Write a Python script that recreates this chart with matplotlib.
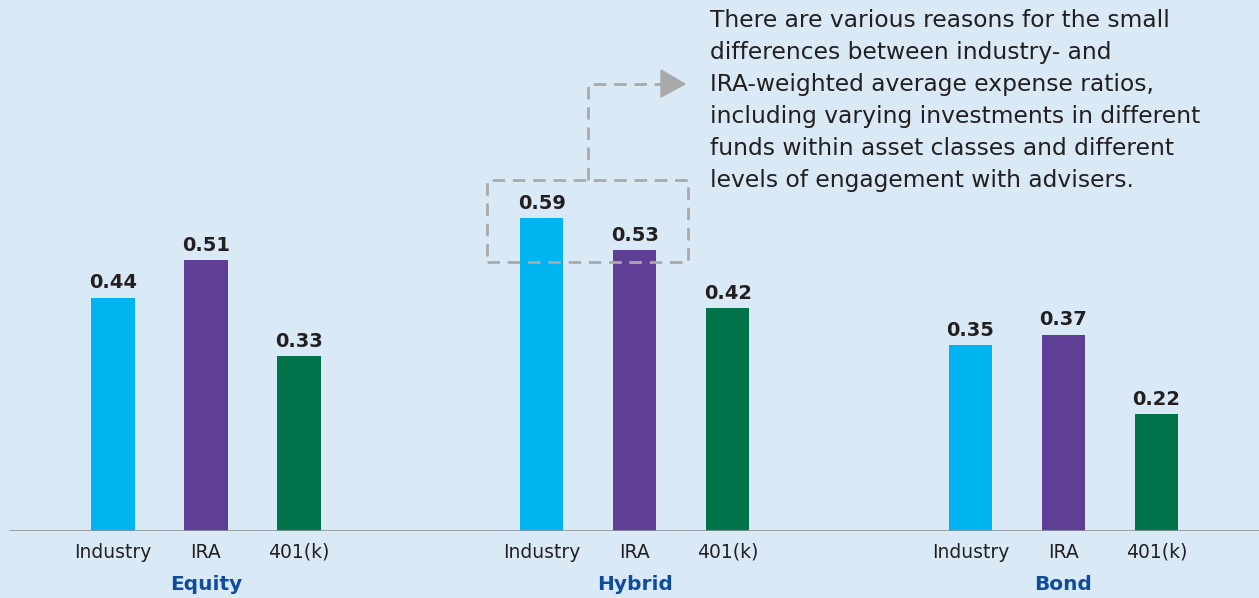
import matplotlib
matplotlib.use("Agg")
import matplotlib.pyplot as plt
from matplotlib.patches import Rectangle, Polygon

groups = ["Equity", "Hybrid", "Bond"]
series = ["Industry", "IRA", "401(k)"]
industry = [0.44, 0.59, 0.35]
ira = [0.51, 0.53, 0.37]
k401 = [0.33, 0.42, 0.22]
values = [industry, ira, k401]
colors = ["#00b5ef", "#5f3f96", "#00734a"]
note = ("There are various reasons for the small\n"
        "differences between industry- and\n"
        "IRA-weighted average expense ratios,\n"
        "including varying investments in different\n"
        "funds within asset classes and different\n"
        "levels of engagement with advisers.")

bg = "#d9eaf6"
W, H = 1259, 598
fig = plt.figure(figsize=(W/100, H/100), dpi=100, facecolor=bg)
base_px = 531
ax = fig.add_axes([0, (H-base_px)/H, 1, base_px/H])
ax.set_facecolor(bg)
k = 530.5
ax.set_ylim(0, base_px/k)
gsp = 4.61
unit = 93.0
ax.set_xlim(-206/unit, (W-206)/unit)
for s in ax.spines.values():
    s.set_visible(False)
ax.set_xticks([]); ax.set_yticks([])

font = "DejaVu Sans"
for si, (name, vals, c) in enumerate(zip(series, values, colors)):
    xs = [g*gsp + (si-1) for g in range(len(groups))]
    ax.bar(xs, vals, width=0.465, color=c, zorder=2)
    for x, v in zip(xs, vals):
        ax.text(x, v + 0.010, f"{v:.2f}", ha="center", va="bottom", fontsize=14,
                fontweight="bold", color="#231f20", family=font)
        ax.text(x, -0.022, name, ha="center", va="top", fontsize=13.5,
                color="#231f20", family=font, clip_on=False)
for g, gname in enumerate(groups):
    ax.text(g*gsp, -0.082, gname, ha="center", va="top", fontsize=14.5,
            fontweight="bold", color="#0f4c9c", family=font, clip_on=False)

ax.axhline(0, xmin=10/W, xmax=1, color="#8c9399", lw=1.2, zorder=3)

# dashed callout
def px2d(xp, yp):
    return ((xp-206)/unit, (base_px-yp)/k)
dash = (0, (4.5, 2.8))
gray = "#a9a9a9"
x0, y0 = px2d(487, 262)
x1, y1 = px2d(688, 180)
ax.add_patch(Rectangle((x0, y0), x1-x0, y1-y0, fill=False, ls=dash,
                       ec=gray, lw=2, zorder=4, clip_on=False))
cx, cy0 = px2d(588, 180)
_, cy1 = px2d(588, 84)
ax_, _ = px2d(663, 84)
ax.plot([cx, cx, ax_], [cy0, cy1, cy1], ls=dash, color=gray, lw=2,
        zorder=4, clip_on=False)
ta = px2d(661, 70); tb = px2d(661, 97); tc = px2d(685, 84)
ax.add_patch(Polygon([ta, tb, tc], closed=True, color=gray, zorder=4, clip_on=False))

fig.text(710/W, 1 - 9/H, note, ha="left", va="top", fontsize=16.8, color="#231f20",
         family=font, linespacing=1.5)

fig.savefig("out.png", dpi=100, facecolor=bg)
